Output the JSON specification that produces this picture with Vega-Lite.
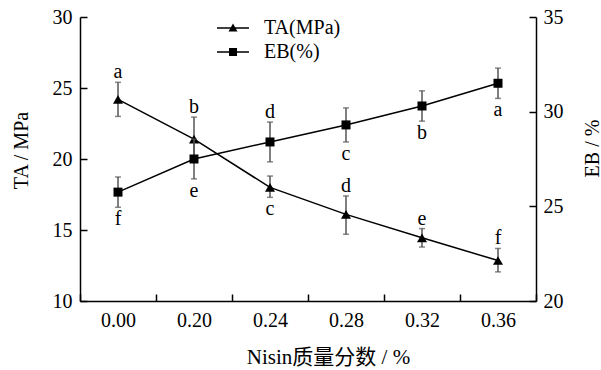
{
  "$schema": "https://vega.github.io/schema/vega-lite/v6.json",
  "width": 456,
  "height": 284,
  "autosize": {"type": "none"},
  "padding": {"left": 80, "top": 17, "right": 65, "bottom": 69},
  "config": {
    "view": {"stroke": null},
    "font": "Liberation Serif, 'Times New Roman', Times, 'DejaVu Serif', serif",
    "text": {"font": "Liberation Serif, 'Times New Roman', Times, 'DejaVu Serif', serif"},
    "axis": {
      "domainColor": "black", "domainWidth": 1.5, "tickColor": "black", "tickWidth": 1.5,
      "tickSize": -7, "grid": false, "labelFont": "Liberation Serif, 'Times New Roman', Times, 'DejaVu Serif', serif", "labelFontSize": 20,
      "labelColor": "black", "titleFont": "Liberation Serif, 'Times New Roman', Times, 'Noto Sans CJK SC', serif", "titleFontSize": 20,
      "titleColor": "black", "titleFontWeight": "normal"
    },
    "legend": {"labelFont": "Liberation Serif, 'Times New Roman', Times, 'DejaVu Serif', serif"}
  },
  "data": {"values": [
    {"n": "0.00", "series": "TA(MPa)", "v": 24.2, "lo": 23.0, "hi": 25.4, "sig": "a", "side": "above"},
    {"n": "0.20", "series": "TA(MPa)", "v": 21.4, "lo": 19.85, "hi": 22.95, "sig": "b", "side": "above"},
    {"n": "0.24", "series": "TA(MPa)", "v": 18.0, "lo": 17.3, "hi": 18.8, "sig": "c", "side": "below"},
    {"n": "0.28", "series": "TA(MPa)", "v": 16.1, "lo": 14.7, "hi": 17.4, "sig": "d", "side": "above"},
    {"n": "0.32", "series": "TA(MPa)", "v": 14.45, "lo": 13.8, "hi": 15.1, "sig": "e", "side": "above"},
    {"n": "0.36", "series": "TA(MPa)", "v": 12.85, "lo": 12.05, "hi": 13.7, "sig": "f", "side": "above"},
    {"n": "0.00", "series": "EB(%)", "v": 25.75, "lo": 24.95, "hi": 26.55, "sig": "f", "side": "below"},
    {"n": "0.20", "series": "EB(%)", "v": 27.5, "lo": 26.45, "hi": 28.55, "sig": "e", "side": "below"},
    {"n": "0.24", "series": "EB(%)", "v": 28.4, "lo": 27.35, "hi": 29.45, "sig": "d", "side": "above"},
    {"n": "0.28", "series": "EB(%)", "v": 29.3, "lo": 28.4, "hi": 30.2, "sig": "c", "side": "below"},
    {"n": "0.32", "series": "EB(%)", "v": 30.3, "lo": 29.5, "hi": 31.1, "sig": "b", "side": "below"},
    {"n": "0.36", "series": "EB(%)", "v": 31.5, "lo": 30.7, "hi": 32.3, "sig": "a", "side": "below"}
  ]},
  "encoding": {
    "x": {
      "field": "n", "type": "ordinal", "sort": null,
      "scale": {"type": "band", "paddingInner": 0, "paddingOuter": 0},
      "axis": {"title": "Nisin质量分数 / %", "labelAngle": 0, "tickBand": "extent", "labelPadding": 16,
               "titleX": 248, "titleY": 62, "titleBaseline": "alphabetic", "titleFontSize": 21}
    }
  },
  "layer": [
    {
      "transform": [{"filter": "datum.series === 'TA(MPa)'"}],
      "layer": [
        {"mark": {"type": "rule", "color": "#555", "strokeWidth": 1.5},
         "encoding": {"y": {"field": "lo", "type": "quantitative", "title": "TA / MPa"}, "y2": {"field": "hi"}}},
        {"mark": {"type": "tick", "orient": "horizontal", "color": "#555", "size": 6, "thickness": 1.5},
         "encoding": {"y": {"field": "lo", "type": "quantitative", "title": "TA / MPa"}}},
        {"mark": {"type": "tick", "orient": "horizontal", "color": "#555", "size": 6, "thickness": 1.5},
         "encoding": {"y": {"field": "hi", "type": "quantitative", "title": "TA / MPa"}}},
        {"mark": {"type": "line", "color": "black", "strokeWidth": 1.5},
         "encoding": {"y": {"field": "v", "type": "quantitative", "title": "TA / MPa",
           "scale": {"domain": [10, 30], "nice": false, "zero": false},
           "axis": {"orient": "left", "values": [10, 15, 20, 25, 30], "labelPadding": 15,
                    "titleX": -53, "titleY": 133, "titleAngle": 270, "titleBaseline": "alphabetic"}}}},
        {"mark": {"type": "point", "filled": true, "color": "black", "size": 100, "opacity": 1, "shape": "triangle-up"},
         "encoding": {"y": {"field": "v", "type": "quantitative", "title": "TA / MPa"}}},
        {"mark": {"type": "point", "filled": true, "color": "black", "size": 0, "opacity": 1},
         "encoding": {
           "y": {"field": "v", "type": "quantitative", "title": "TA / MPa"},
           "shape": {"field": "series", "type": "nominal",
             "scale": {"domain": ["TA(MPa)", "EB(%)"],
                       "range": ["M-3.2,-0.15H3.2V0.15H-3.2Z M0,-0.9L0.9,0.7H-0.9Z", "M-3.2,-0.15H3.2V0.15H-3.2Z M-0.8,-0.8H0.8V0.8H-0.8Z"]},
             "legend": {"orient": "none", "legendX": 143, "legendY": 1, "title": null,
               "labelFontSize": 20, "labelColor": "black",
               "symbolSize": 100, "labelOffset": 21, "padding": 0, "rowPadding": 4,
               "symbolFillColor": "black", "symbolOpacity": 1}}
         }},
        {"transform": [{"filter": "datum.side === 'above'"}],
         "mark": {"type": "text", "fontSize": 20, "color": "black", "baseline": "alphabetic", "dy": -4},
         "encoding": {"y": {"field": "hi", "type": "quantitative", "title": "TA / MPa"}, "text": {"field": "sig"}}},
        {"transform": [{"filter": "datum.side === 'below'"}],
         "mark": {"type": "text", "fontSize": 20, "color": "black", "baseline": "alphabetic", "dy": 18},
         "encoding": {"y": {"field": "lo", "type": "quantitative", "title": "TA / MPa"}, "text": {"field": "sig"}}}
      ]
    },
    {
      "transform": [{"filter": "datum.series === 'EB(%)'"}],
      "layer": [
        {"mark": {"type": "rule", "color": "#555", "strokeWidth": 1.5},
         "encoding": {"y": {"field": "lo", "type": "quantitative", "title": "EB / %"}, "y2": {"field": "hi"}}},
        {"mark": {"type": "tick", "orient": "horizontal", "color": "#555", "size": 6, "thickness": 1.5},
         "encoding": {"y": {"field": "lo", "type": "quantitative", "title": "EB / %"}}},
        {"mark": {"type": "tick", "orient": "horizontal", "color": "#555", "size": 6, "thickness": 1.5},
         "encoding": {"y": {"field": "hi", "type": "quantitative", "title": "EB / %"}}},
        {"mark": {"type": "line", "color": "black", "strokeWidth": 1.5},
         "encoding": {"y": {"field": "v", "type": "quantitative", "title": "EB / %",
           "scale": {"domain": [20, 35], "nice": false, "zero": false},
           "axis": {"orient": "right", "values": [20, 25, 30, 35], "labelPadding": 14,
                    "titleX": 62, "titleY": 131, "titleAngle": 270, "titleBaseline": "alphabetic"}}}},
        {"mark": {"type": "point", "filled": true, "color": "black", "size": 81, "opacity": 1, "shape": "square"},
         "encoding": {"y": {"field": "v", "type": "quantitative", "title": "EB / %"}}},
        {"transform": [{"filter": "datum.side === 'above'"}],
         "mark": {"type": "text", "fontSize": 20, "color": "black", "baseline": "alphabetic", "dy": -4},
         "encoding": {"y": {"field": "hi", "type": "quantitative", "title": "EB / %"}, "text": {"field": "sig"}}},
        {"transform": [{"filter": "datum.side === 'below'"}],
         "mark": {"type": "text", "fontSize": 20, "color": "black", "baseline": "alphabetic", "dy": 18},
         "encoding": {"y": {"field": "lo", "type": "quantitative", "title": "EB / %"}, "text": {"field": "sig"}}}
      ]
    }
  ],
  "resolve": {"scale": {"y": "independent"}}
}
